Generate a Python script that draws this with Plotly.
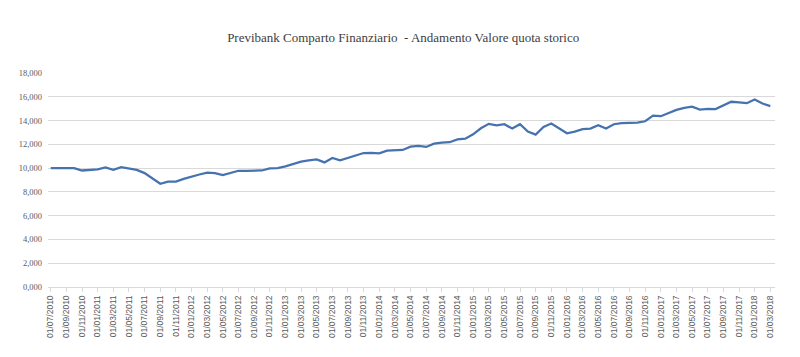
import plotly.graph_objects as go
import pandas as pd

title = "Previbank Comparto Finanziario  - Andamento Valore quota storico"

dates = pd.date_range("2010-07-01", "2018-03-01", freq="MS")
categories = [d.strftime("%d/%m/%Y") for d in dates]

values = [
    10.000, 10.000, 10.000, 10.000, 9.800, 9.870, 9.900, 10.050, 9.850, 10.080,
    9.950, 9.850, 9.580, 9.125, 8.680, 8.870, 8.870, 9.090, 9.300, 9.465,
    9.610, 9.580, 9.410, 9.580, 9.775, 9.775, 9.800, 9.800, 9.970, 10.000,
    10.140, 10.370, 10.540, 10.650, 10.730, 10.480, 10.850, 10.650, 10.875, 11.100,
    11.270, 11.280, 11.240, 11.470, 11.525, 11.525, 11.800, 11.860, 11.780, 12.060,
    12.140, 12.180, 12.420, 12.480, 12.840, 13.350, 13.720, 13.600, 13.690, 13.325,
    13.690, 13.070, 12.820, 13.470, 13.750, 13.325, 12.930, 13.070, 13.270, 13.325,
    13.600, 13.325, 13.690, 13.775, 13.800, 13.830, 13.940, 14.420, 14.365, 14.650,
    14.900, 15.070, 15.160, 14.930, 14.990, 14.960, 15.300, 15.580, 15.520, 15.460,
    15.775, 15.440, 15.210,
]

y_tickvals = [0, 2, 4, 6, 8, 10, 12, 14, 16, 18]
y_ticktext = ["0,000", "2,000", "4,000", "6,000", "8,000", "10,000",
              "12,000", "14,000", "16,000", "18,000"]

x_tickvals = list(range(0, len(categories), 2))
x_ticktext = [categories[i] for i in x_tickvals]

fig = go.Figure()
fig.add_trace(go.Scatter(
    x=list(range(len(categories))), y=values, mode="lines",
    line=dict(color="#4673b0", width=2.25),
    hovertext=categories, showlegend=False,
))

# page body has an 8px default margin, so the figure is 792x349
fig.update_layout(
    width=792, height=349,
    paper_bgcolor="white", plot_bgcolor="white",
    margin=dict(l=40, r=25, t=65, b=70, autoexpand=False),
    title=dict(text=title, x=0.499, xanchor="center", y=0.917, yanchor="middle",
               font=dict(family="Liberation Serif", size=13, color="#404040")),
    showlegend=False,
)
fig.update_xaxes(
    range=[-0.35, 92.6], tickmode="array", tickvals=x_tickvals, ticktext=x_ticktext,
    tickangle=-90, tickfont=dict(family="Liberation Sans", size=8.5, color="#595959"),
    showgrid=False, zeroline=False, showline=True, linecolor="#d9d9d9", linewidth=1,
    ticks="outside", ticklen=4, tickcolor="#d9d9d9", automargin=False,
)
fig.update_yaxes(
    range=[0, 18], tickmode="array", tickvals=y_tickvals, ticktext=y_ticktext,
    tickfont=dict(family="Liberation Serif", size=8.5, color="#595959"),
    showgrid=True, gridcolor="#d9d9d9", gridwidth=1, zeroline=False,
    showline=False, ticks="", automargin=False, ticklabelstandoff=5,
)

fig.write_html("out.html")
